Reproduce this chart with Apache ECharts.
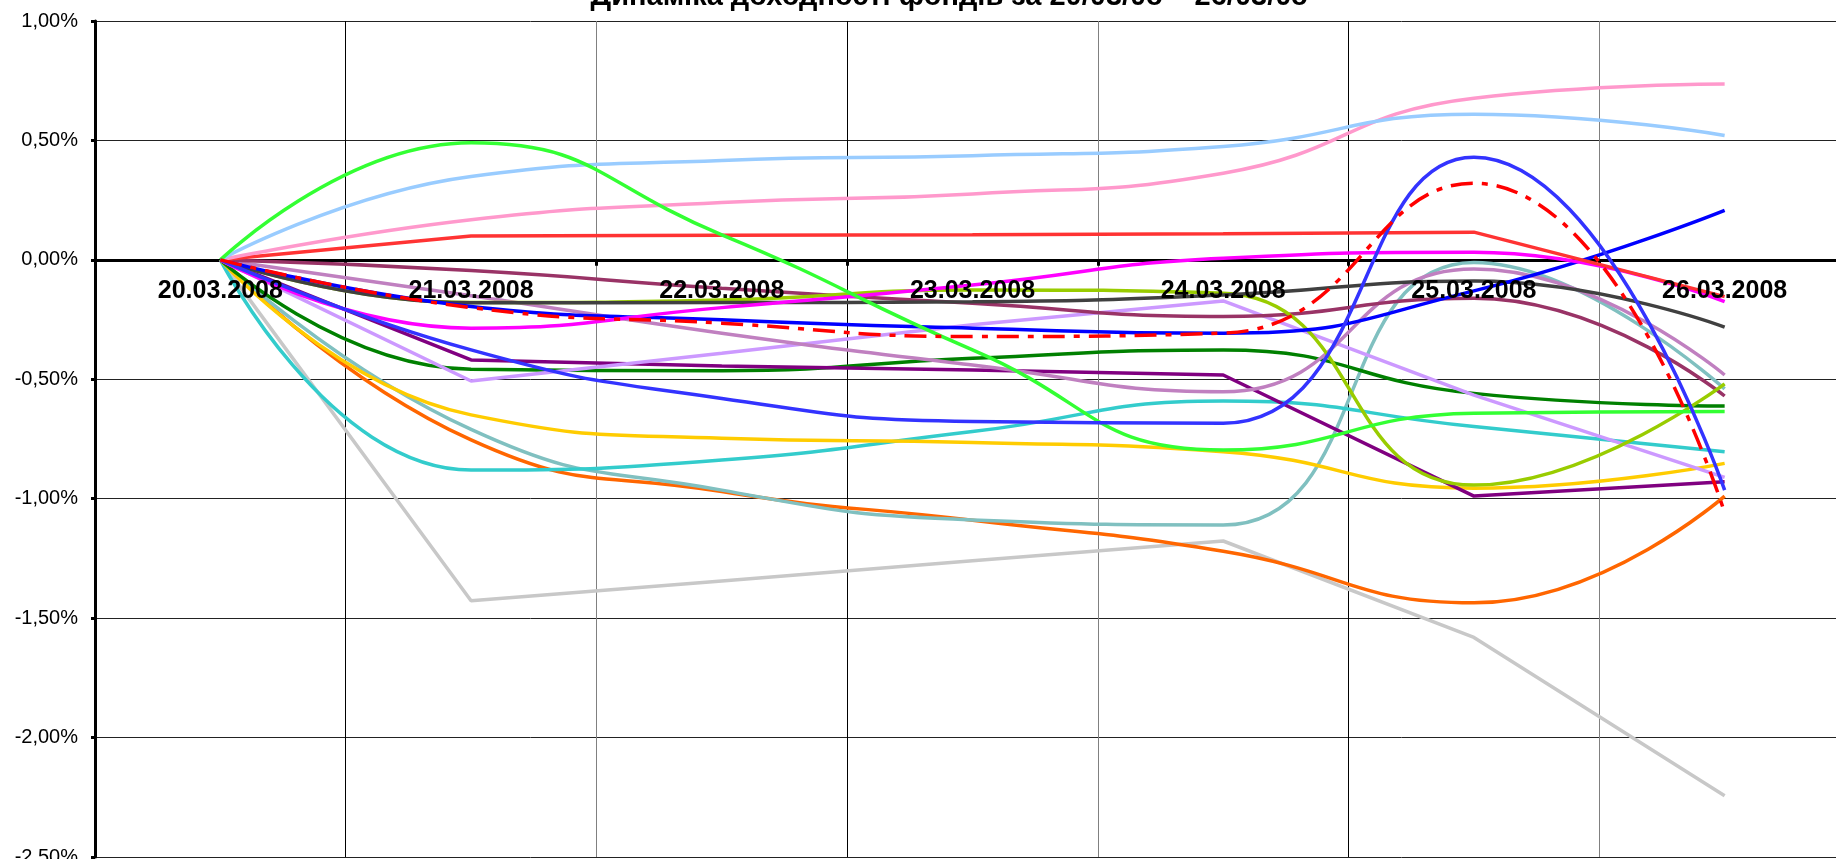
<!DOCTYPE html>
<html>
<head>
<meta charset="UTF-8">
<title>Динаміка доходності фондів</title>
<style>
  html, body { margin: 0; padding: 0; background: #fff; }
  #chart { width: 1836px; height: 859px; }
</style>
</head>
<body>
<div id="chart"></div>
<script src="https://cdn.jsdelivr.net/npm/echarts@6/dist/echarts.min.js"></script>
<script>
// dates on the category axis
var categories = ['20.03.2008', '21.03.2008', '22.03.2008', '23.03.2008', '24.03.2008', '25.03.2008', '26.03.2008'];
var yTicks = [-2.5, -2.0, -1.5, -1.0, -0.5, 0, 0.5, 1.0];

// returns in %
var grayFund      = [0, -1.427, -1.344, -1.26, -1.177, -1.581, -2.244];
var orangeFund    = [0, -0.754, -0.97, -1.09, -1.22, -1.436, -0.989];
var tealFund      = [0, -0.71, -0.964, -1.089, -1.11, -0.011, -0.54];
var cyanFund      = [0, -0.88, -0.838, -0.719, -0.591, -0.698, -0.803];
var yellowFund    = [0, -0.649, -0.747, -0.765, -0.803, -0.956, -0.852];
var darkGreenFund = [0, -0.458, -0.464, -0.412, -0.377, -0.559, -0.612];
var purpleFund    = [0, -0.419, -0.444, -0.461, -0.482, -0.989, -0.929];
var lavenderFund  = [0, -0.507, -0.391, -0.272, -0.172, -0.566, -0.911];
var mauveFund     = [0, -0.15, -0.307, -0.44, -0.552, -0.038, -0.482];
var maroonFund    = [0, -0.045, -0.119, -0.182, -0.237, -0.161, -0.57];
var oliveFund     = [0, -0.179, -0.168, -0.126, -0.14, -0.943, -0.519];
var darkGrayFund  = [0, -0.18, -0.179, -0.175, -0.147, -0.089, -0.282];
var blueFund      = [0, -0.195, -0.251, -0.286, -0.307, -0.13, 0.207];
var magentaFund   = [0, -0.286, -0.20, -0.105, 0.007, 0.032, -0.175];
var redFund       = [0, 0.10, 0.103, 0.105, 0.109, 0.116, -0.154];
var pinkFund      = [0, 0.168, 0.24, 0.276, 0.363, 0.677, 0.736];
var skyFund       = [0, 0.349, 0.416, 0.436, 0.475, 0.61, 0.521];
var limeFund      = [0, 0.49, 0.105, -0.377, -0.796, -0.642, -0.635];
var redDashFund   = [0, -0.20, -0.265, -0.321, -0.307, 0.321, -1.059];
var brightBlueFund = [0, -0.377, -0.58, -0.677, -0.684, 0.43, -0.964];

var FONT = "'Liberation Sans', Arial, sans-serif";

var yMin = yTicks[0], yMax = yTicks[yTicks.length - 1];
var gridTop = 21, gridHeight = 836;
// the date axis sits on the 0% line, so shift it up from the grid bottom
var zeroOffset = -(0 - yMin) / (yMax - yMin) * gridHeight;

var dateLabel = {
    interval: 0,
    margin: 19,
    color: '#000',
    fontSize: 25,
    fontWeight: 'bold',
    fontFamily: FONT
};

function line(data, color, smooth, dash) {
    return {
        type: 'line',
        data: data,
        smooth: smooth,
        symbol: 'none',
        silent: true,
        lineStyle: {
            color: color,
            width: 3.5,
            type: dash || 'solid'
        }
    };
}

var myChart = echarts.init(document.getElementById('chart'));
var option = {
    animation: false,
    backgroundColor: '#ffffff',
    graphic: [{
        type: 'text',
        x: 949,
        y: -3,
        style: {
            text: 'Динаміка доходності фондів за 20/03/08 – 26/03/08',
            font: 'bold 29px ' + FONT,
            fill: '#000',
            textAlign: 'center',
            textVerticalAlign: 'middle'
        }
    }],
    grid: {
        left: 95,
        top: gridTop,
        width: 1755,
        height: gridHeight,
        outerBoundsMode: 'none',
        containLabel: false
    },
    xAxis: [{
        // line, ticks and grid lines, under the series
        type: 'category',
        data: categories,
        boundaryGap: true,
        position: 'bottom',
        offset: zeroOffset,
        axisLine: { onZero: false, lineStyle: { color: '#000', width: 3 } },
        axisTick: { show: true, length: 6, lineStyle: { color: '#000', width: 3 } },
        axisLabel: { show: false },
        splitLine: { show: true, lineStyle: { color: ['#808080', '#000000'], width: 1 } }
    }, {
        // date labels only, drawn over the series
        type: 'category',
        data: categories,
        boundaryGap: true,
        position: 'bottom',
        offset: zeroOffset,
        z: 10,
        axisLine: { show: false, onZero: false },
        axisTick: { show: false },
        splitLine: { show: false },
        axisLabel: dateLabel
    }],
    yAxis: {
        type: 'value',
        min: yMin,
        max: yMax,
        interval: 0.5,
        axisLine: { show: true, lineStyle: { color: '#000', width: 3 } },
        axisTick: { show: true, length: 4, lineStyle: { color: '#000', width: 3 } },
        axisLabel: {
            margin: 17,
            color: '#000',
            fontSize: 20,
            fontFamily: FONT,
            formatter: function (v) {
                return v.toFixed(2).replace('.', ',') + '%';
            }
        },
        splitLine: { show: true, lineStyle: { color: '#222', width: 1 } }
    },
    series: [
        line(grayFund, '#C8C8C8', false),
        line(orangeFund, '#FF6600', true),
        line(tealFund, '#80C0C0', true),
        line(cyanFund, '#33CCCC', true),
        line(yellowFund, '#FFCC00', true),
        line(darkGreenFund, '#008000', true),
        line(purpleFund, '#800080', false),
        line(lavenderFund, '#CC99FF', false),
        line(mauveFund, '#C080C0', true),
        line(maroonFund, '#993366', true),
        line(oliveFund, '#99CC00', true),
        line(darkGrayFund, '#404040', true),
        line(blueFund, '#0000FF', true),
        line(magentaFund, '#FF00FF', true),
        line(redFund, '#FF3333', false),
        line(pinkFund, '#FF99CC', true),
        line(skyFund, '#99CCFF', true),
        line(limeFund, '#33FF33', true),
        line(brightBlueFund, '#3333FF', true),
        line(redDashFund, '#FF0000', true, [22, 9, 6, 9])
    ]
};
myChart.setOption(option);
</script>
</body>
</html>
